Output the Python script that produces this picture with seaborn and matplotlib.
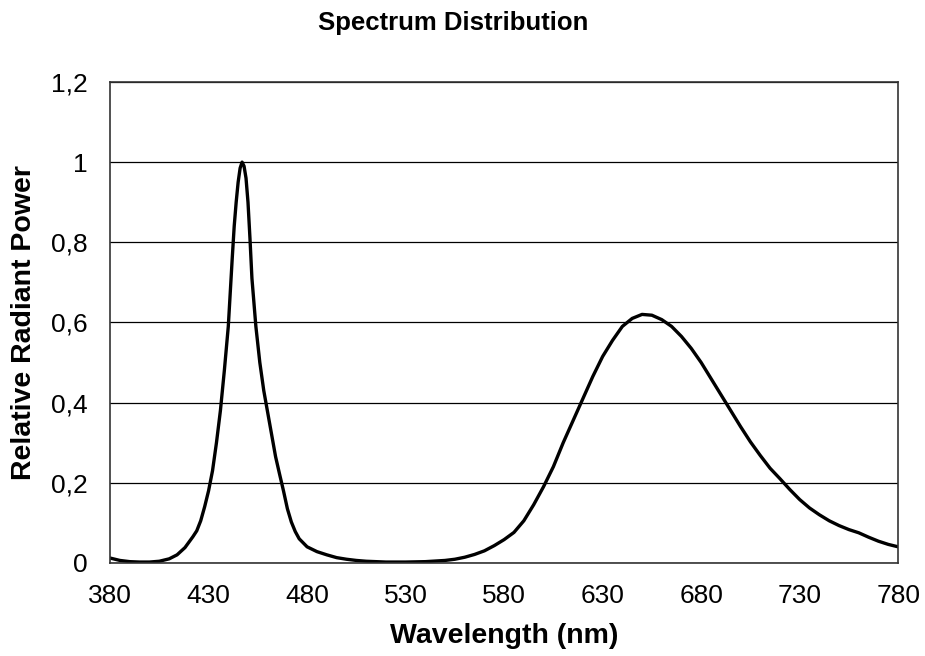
import numpy as np
import pandas as pd
import matplotlib
matplotlib.use("Agg")
import matplotlib.pyplot as plt
import seaborn as sns

# spectrum (nm, relative power)
wavelength = [380, 385, 390, 395, 400, 405, 410, 414, 418, 422, 424, 426, 428, 430,
              432, 434, 436, 438, 440, 442, 443, 444, 445, 446, 447, 448, 449, 450,
              451, 452, 454, 456, 458, 460, 462, 464, 466, 468, 470, 472, 474, 476,
              480, 485, 490, 495, 500, 505, 510, 520, 530, 540, 550, 555, 560, 565,
              570, 575, 580, 585, 590, 595, 600, 605, 610, 615, 620, 625, 630, 635,
              640, 645, 650, 655, 660, 665, 670, 675, 680, 685, 690, 695, 700, 705,
              710, 715, 720, 725, 730, 735, 740, 745, 750, 755, 760, 765, 770, 775, 780]
power = [0.012, 0.006, 0.003, 0.002, 0.002, 0.004, 0.010, 0.020, 0.038, 0.065, 0.080,
         0.105, 0.140, 0.180, 0.230, 0.300, 0.380, 0.480, 0.590, 0.760, 0.840, 0.900,
         0.950, 0.985, 1.000, 0.990, 0.960, 0.900, 0.810, 0.710, 0.590, 0.500, 0.430,
         0.375, 0.320, 0.265, 0.222, 0.180, 0.135, 0.102, 0.078, 0.060, 0.040, 0.028,
         0.020, 0.013, 0.009, 0.006, 0.004, 0.002, 0.002, 0.003, 0.006, 0.009, 0.014,
         0.021, 0.030, 0.043, 0.058, 0.076, 0.105, 0.145, 0.190, 0.240, 0.300, 0.355,
         0.410, 0.465, 0.515, 0.555, 0.590, 0.610, 0.620, 0.618, 0.607, 0.590, 0.565,
         0.535, 0.500, 0.460, 0.420, 0.380, 0.340, 0.302, 0.268, 0.236, 0.210, 0.183,
         0.158, 0.137, 0.120, 0.105, 0.093, 0.083, 0.075, 0.064, 0.054, 0.046, 0.040]

xticks = [380, 430, 480, 530, 580, 630, 680, 730, 780]
yticks = [0, 0.2, 0.4, 0.6, 0.8, 1.0, 1.2]
ytick_labels = ["0", "0,2", "0,4", "0,6", "0,8", "1", "1,2"]

df = pd.DataFrame({"wavelength": wavelength, "power": power})

sns.set_style("white")
plt.rcParams["font.family"] = ["Liberation Sans", "DejaVu Sans"]
plt.rcParams["text.color"] = "black"
plt.rcParams["xtick.color"] = "black"
plt.rcParams["ytick.color"] = "black"
plt.rcParams["axes.labelcolor"] = "black"

fig = plt.figure(figsize=(9.25, 6.56), dpi=100)
ax = fig.add_axes([0.119, 0.142, 0.852, 0.733])

sns.lineplot(data=df, x="wavelength", y="power", color="black", linewidth=2.4, ax=ax)

ax.set_xlim(380, 780)
ax.set_ylim(0, 1.2)
ax.set_xticks(xticks)
ax.set_xticklabels([str(t) for t in xticks], fontsize=19)
ax.set_yticks(yticks)
ax.set_yticklabels(ytick_labels, fontsize=19)
ax.tick_params(axis="x", length=0, pad=15)
ax.tick_params(axis="y", length=4, width=1, direction="out", pad=12)
ax.yaxis.grid(True, color="black", linewidth=0.9)
ax.xaxis.grid(False)
ax.set_axisbelow(True)
for s in ax.spines.values():
    s.set_color("#333333")
    s.set_linewidth(1.2)

ax.set_xlabel("Wavelength (nm)", fontsize=20.5, fontweight="bold", labelpad=11)
ax.set_ylabel("Relative Radiant Power", fontsize=20.5, fontweight="bold", labelpad=10)
fig.suptitle("Spectrum Distribution", fontsize=18.5, fontweight="bold", x=0.49, y=0.983)

fig.savefig("out.png", dpi=100)
